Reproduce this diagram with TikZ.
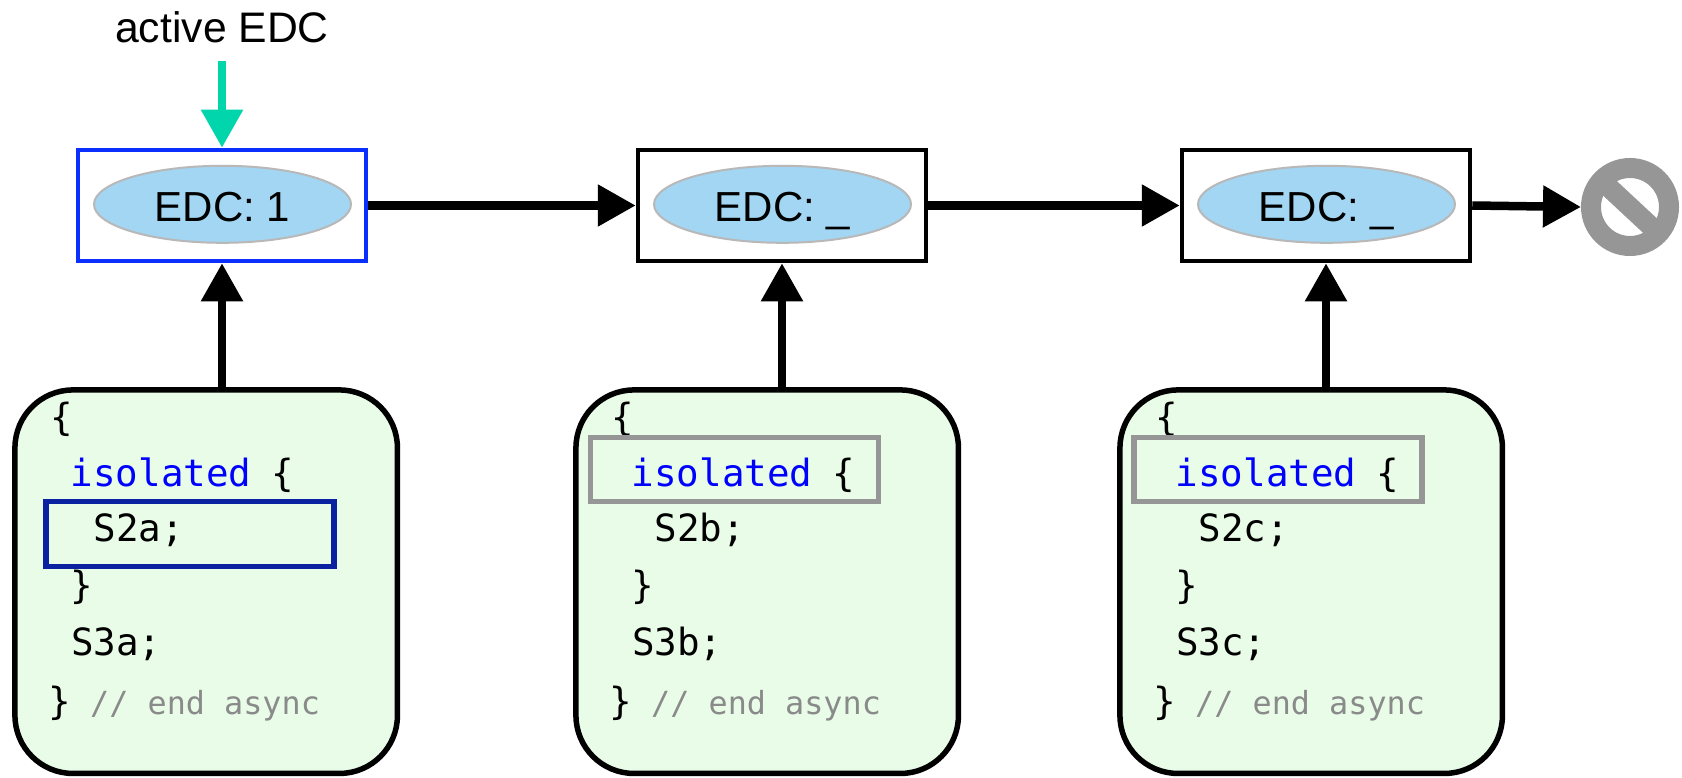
\documentclass[tikz,border=0pt]{standalone}
\usepackage{fontspec}
\setmainfont{Liberation Sans}
\setmonofont{DejaVu Sans Mono}
\usetikzlibrary{arrows.meta,shapes.geometric}
\definecolor{tealarrow}{HTML}{00D5AB}
\definecolor{boxblue}{HTML}{0B2FFF}
\definecolor{hlblue}{HTML}{0A22A0}
\definecolor{hlgray}{HTML}{969696}
\definecolor{ellfill}{HTML}{A2D6F2}
\definecolor{ellline}{HTML}{B8B8B8}
\definecolor{codefill}{HTML}{E8FCE8}
\definecolor{commentgray}{HTML}{8A8A8A}
\definecolor{kwblue}{HTML}{0000FF}
\tikzset{
  edcbox/.style={draw=black,fill=white,line width=4.5pt,minimum width=288pt,minimum height=111pt,inner sep=0pt},
  edcell/.style={ellipse,draw=ellline,fill=ellfill,line width=2pt,minimum width=257pt,minimum height=77pt,inner sep=0pt,
    text height=35pt,text depth=0pt,font=\fontsize{42pt}{46pt}\selectfont},
  codebox/.style={draw=black,fill=codefill,line width=5.5pt,rounded corners=58pt,minimum width=382.5pt,minimum height=383.5pt,inner sep=0pt},
  hlbox/.style={line width=5.5pt,inner sep=0pt,minimum width=288pt},
  code/.style={anchor=base west,inner sep=0pt,font=\ttfamily\fontsize{37.5pt}{41pt}\selectfont},
  comment/.style={anchor=base west,inner sep=0pt,text=commentgray,font=\ttfamily\fontsize{31.8pt}{37pt}\selectfont},
  flow/.style={line width=8.5pt,-{Triangle[length=38pt,width=40pt]},shorten <=0pt,shorten >=0pt},
}
\newcommand{\codepanel}[2]{%
  \node[codebox] (#1box) at (206.2,581.7) {};
  \node[code] (#1l1) at (50,430) {\{};
  \node[code,text=kwblue] (#1l2a) at (70.5,486) {isolated};
  \node[code] (#1l2b) at (271,486) {\{};
  \node[code] (#1l3) at (93.5,541.7) {S2#2;};
  \node[code] (#1l4) at (70.5,598) {\}};
  \node[code] (#1l5) at (71,655) {S3#2;};
  \node[code] (#1l6) at (48,714) {\}};
  \node[comment] (#1l7) at (90,714) {// end async};
}
\begin{document}
\begin{tikzpicture}[x=1pt,y=-1pt]
\useasboundingbox (0,0) rectangle (1682,778);
% upper row
\node[edcbox,draw=boxblue] (b1) at (222,205.5) {};
\node[edcbox] (b2) at (782,205.5) {};
\node[edcbox] (b3) at (1326,205.5) {};
\node[edcell] (e1) at (222.5,204.3) {EDC: 1};
\node[edcell] (e2) at (782.5,204.3) {EDC: \_};
\node[edcell] (e3) at (1326.5,204.3) {EDC: \_};
\node[anchor=base,inner sep=0pt,font=\fontsize{42.7pt}{46pt}\selectfont] (lab) at (222,42.5) {active EDC};
\coordinate (tealstart) at (222,61);
% stop sign
\node[circle,draw=hlgray,line width=20pt,minimum size=78pt,inner sep=0pt] (stop) at (1630,207) {};
\draw[hlgray,line width=20pt] (stop.center) ++(-29,-27) -- ++(58,54);
% panels
\begin{scope}
\codepanel{pa}{a}
\node[hlbox,draw=hlblue,minimum height=65pt] (hla) at (190.2,534) {};
\end{scope}
\begin{scope}[xshift=561pt]
\codepanel{pb}{b}
\node[hlbox,draw=hlgray,minimum height=64pt] (hlb) at (173.5,469.5) {};
\end{scope}
\begin{scope}[xshift=1105pt]
\codepanel{pc}{c}
\node[hlbox,draw=hlgray,minimum height=64pt] (hlc) at (173,469.5) {};
\end{scope}
% connectors
\draw[flow,tealarrow] (tealstart) -- (b1.north);
\draw[flow] (b1.east) -- (b2.west);
\draw[flow] (b2.east) -- (b3.west);
\draw[flow] (b3.east) -- (stop.west);
\draw[flow] (b1.south |- pabox.north) -- (b1.south);
\draw[flow] (b2.south |- pbbox.north) -- (b2.south);
\draw[flow] (b3.south |- pcbox.north) -- (b3.south);
\end{tikzpicture}
\end{document}
